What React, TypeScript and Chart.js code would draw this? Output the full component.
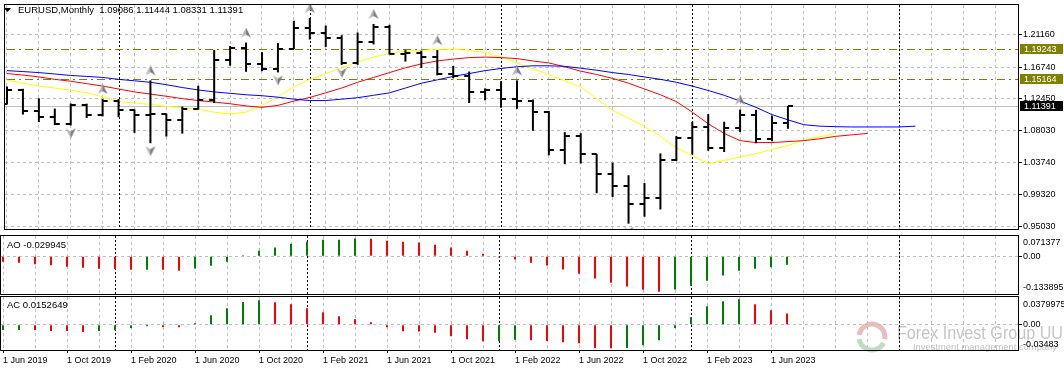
import React, { useEffect, useRef } from 'react';
import { Chart, registerables } from 'chart.js';

Chart.register(...registerables);

const FONT = "'Liberation Sans', Arial, sans-serif";

// ---------- data (monthly EURUSD, Jun 2019 .. Jul 2023) ----------
const xTickLabels = ['1 Jun 2019', '1 Oct 2019', '1 Feb 2020', '1 Jun 2020', '1 Oct 2020', '1 Feb 2021', '1 Jun 2021', '1 Oct 2021', '1 Feb 2022', '1 Jun 2022', '1 Oct 2022', '1 Feb 2023', '1 Jun 2023'];

const opens = [1.1169, 1.1370, 1.1076, 1.0988, 1.0899, 1.1152, 1.1017, 1.1213, 1.1091, 1.1026,
  1.1031, 1.0955, 1.1103, 1.1233, 1.1778, 1.1935, 1.1721, 1.1647, 1.1928, 1.2216,
  1.2136, 1.2074, 1.1730, 1.2020, 1.2227, 1.1858, 1.1870, 1.1808, 1.1580, 1.1558,
  1.1337, 1.1370, 1.1235, 1.1219, 1.1067, 1.0545, 1.0733, 1.0484, 1.0220, 1.0055,
  0.9802, 0.9884, 1.0406, 1.0705, 1.0863, 1.0576, 1.0840, 1.1016, 1.0689, 1.09086];
const highs = [1.1412, 1.1380, 1.1250, 1.1109, 1.1179, 1.1176, 1.1240, 1.1239, 1.1096, 1.1495,
  1.1039, 1.1136, 1.1422, 1.1909, 1.1966, 1.2011, 1.1881, 1.2004, 1.2310, 1.2349,
  1.2243, 1.2113, 1.2150, 1.2266, 1.2254, 1.1909, 1.1901, 1.1909, 1.1692, 1.1616,
  1.1386, 1.1483, 1.1495, 1.1233, 1.1076, 1.0787, 1.0774, 1.0486, 1.0369, 1.0198,
  1.0094, 1.0497, 1.0736, 1.0929, 1.1033, 1.0930, 1.1095, 1.1092, 1.1012, 1.11444];
const lows = [1.1165, 1.1028, 1.0926, 1.0885, 1.0879, 1.0981, 1.1003, 1.0992, 1.0778, 1.0636,
  1.0727, 1.0767, 1.1095, 1.1185, 1.1696, 1.1612, 1.1621, 1.1603, 1.1922, 1.2054,
  1.1952, 1.1704, 1.1707, 1.1986, 1.1847, 1.1752, 1.1664, 1.1563, 1.1524, 1.1186,
  1.1222, 1.1121, 1.1106, 1.0806, 1.0471, 1.0349, 1.0359, 0.9952, 0.9901, 0.9536,
  0.9632, 0.9730, 1.0393, 1.0483, 1.0533, 1.0516, 1.0788, 1.0635, 1.0662, 1.08331];
const closes = [1.1370, 1.1076, 1.0988, 1.0899, 1.1152, 1.1017, 1.1213, 1.1091, 1.1026, 1.1031,
  1.0955, 1.1103, 1.1233, 1.1778, 1.1935, 1.1721, 1.1647, 1.1928, 1.2216, 1.2136,
  1.2074, 1.1730, 1.2020, 1.2227, 1.1858, 1.1870, 1.1808, 1.1580, 1.1558, 1.1337,
  1.1370, 1.1235, 1.1219, 1.1067, 1.0545, 1.0733, 1.0484, 1.0220, 1.0055, 0.9802,
  0.9884, 1.0406, 1.0705, 1.0863, 1.0576, 1.0840, 1.1016, 1.0689, 1.0910, 1.11391];

// Alligator lines (shifted lines run past the last bar)
const jawLine = [1.1628, 1.1615, 1.1601, 1.1582, 1.1562, 1.1549, 1.1535, 1.1509, 1.1489, 1.1469,
  1.1436, 1.1397, 1.1364, 1.1337, 1.1318, 1.1298, 1.1285, 1.1265, 1.1238, 1.1219,
  1.1219, 1.1238, 1.1258, 1.1291, 1.1324, 1.1390, 1.1456, 1.1502, 1.1549, 1.1588,
  1.1628, 1.1658, 1.1681, 1.1694, 1.1694, 1.1687, 1.1661, 1.1634, 1.1601, 1.1575,
  1.1542, 1.1509, 1.1469, 1.1417, 1.1357, 1.1291, 1.1212, 1.1126, 1.1027, 1.0955,
  1.0889, 1.0869, 1.0862, 1.0858, 1.0858, 1.0858, 1.0858, 1.0869];
const teethLine = [1.1588, 1.1568, 1.1542, 1.1509, 1.1483, 1.1450, 1.1417, 1.1377, 1.1337, 1.1307,
  1.1278, 1.1245, 1.1219, 1.1199, 1.1175, 1.1146, 1.1126, 1.1153, 1.1212, 1.1262,
  1.1324, 1.1390, 1.1469, 1.1535, 1.1601, 1.1667, 1.1720, 1.1760, 1.1786, 1.1806,
  1.1813, 1.1806, 1.1793, 1.1760, 1.1733, 1.1681, 1.1621, 1.1575, 1.1522, 1.1456,
  1.1377, 1.1298, 1.1205, 1.1060, 1.0902, 1.0770, 1.0671, 1.0645, 1.0645, 1.0658,
  1.0671, 1.0697, 1.0730, 1.0750, 1.0770];
const lipsLine = [1.1496, 1.1456, 1.1417, 1.1390, 1.1360, 1.1324, 1.1271, 1.1205, 1.1186, 1.1166,
  1.1139, 1.1120, 1.1100, 1.1060, 1.1034, 1.1060, 1.1153, 1.1271, 1.1403, 1.1509,
  1.1588, 1.1667, 1.1747, 1.1813, 1.1865, 1.1892, 1.1905, 1.1918, 1.1922, 1.1905,
  1.1878, 1.1813, 1.1733, 1.1654, 1.1575, 1.1489, 1.1403, 1.1245, 1.1087, 1.0974,
  1.0866, 1.0730, 1.0572, 1.0466, 1.0361, 1.0400, 1.0447, 1.0493, 1.0552, 1.0605,
  1.0678, 1.0724, 1.0770];

const aoValues = [-0.0200, -0.0236, -0.0283, -0.0319, -0.0378, -0.0413, -0.0448, -0.0452, -0.0484, -0.0478,
  -0.0485, -0.0519, -0.0437, -0.0342, -0.0201, 0.0035, 0.0189, 0.0307, 0.0437, 0.0507,
  0.0578, 0.0582, 0.0625, 0.0620, 0.0543, 0.0507, 0.0484, 0.0401, 0.0307, 0.0189,
  0.0083, -0.0047, -0.0118, -0.0236, -0.0330, -0.0472, -0.0625, -0.0791, -0.0944, -0.1074,
  -0.1192, -0.1263, -0.1180, -0.1050, -0.0873, -0.0684, -0.0519, -0.0448, -0.0389, -0.029945];
const acValues = [-0.0073, -0.0072, -0.0074, -0.0087, -0.0088, -0.0101, -0.0087, -0.0078, -0.0046, -0.0023,
  -0.0032, -0.0037, 0.0018, 0.0128, 0.0224, 0.0311, 0.0334, 0.0307, 0.0279, 0.0224,
  0.0169, 0.0115, 0.0073, 0.0032, -0.0037, -0.0092, -0.0094, -0.0110, -0.0160, -0.0202,
  -0.0229, -0.0227, -0.0206, -0.0215, -0.0224, -0.0243, -0.0256, -0.0321, -0.0325, -0.0320,
  -0.0284, -0.0215, -0.0046, 0.0101, 0.0252, 0.0321, 0.0348, 0.0279, 0.0197, 0.0152649];

const fractalUpIdx = [6, 9, 15, 19, 23, 27, 32, 46];
const fractalDownIdx = [4, 9, 17, 21, 39];
const yearStartIdx = [7, 19, 31, 43, 56];

const priceTicks = [0.9503, 0.9932, 1.0374, 1.0803, 1.1245, 1.1674, 1.2116];
const levelPrices = [1.19243, 1.15164];
const bidPrice = 1.11391;
const titleText = 'EURUSD,Monthly  1.09086 1.11444 1.08331 1.11391';
const aoTitle = 'AO -0.029945';
const acTitle = 'AC 0.0152649';
const aoRange = { min: -0.133895, max: 0.071377, minLabel: '-0.133895', maxLabel: '0.071377' };
const acRange = { min: -0.03483, max: 0.0379975, minLabel: '-0.03483', maxLabel: '0.0379975' };
const priceRange = { min: 0.94634, max: 1.25251 };
const barsInView = { min: -0.125, max: 63.4375 };

const GREEN = '#008000';
const RED = '#ff0000';
const GRID = '#c0c0c0';
const AXIS_W = 46;

const gridIdx: number[] = [];
for (let i = 0; i <= 62; i += 2) gridIdx.push(i);

// ---------- helpers ----------
function tickImage(side: 'left' | 'right') {
  const c = document.createElement('canvas');
  c.width = 12; c.height = 2;
  const g = c.getContext('2d')!;
  g.fillStyle = '#000';
  if (side === 'left') g.fillRect(1, 0, 5, 2); else g.fillRect(6, 0, 5, 2);
  return c;
}

function arrowImage(up: boolean) {
  const c = document.createElement('canvas');
  c.width = 12; c.height = 30;
  const g = c.getContext('2d')!;
  const cy = up ? 5 : 23;
  const s = up ? 1 : -1;
  g.beginPath();
  g.moveTo(6, cy - 5 * s); g.lineTo(6, cy + 2 * s); g.lineTo(1, cy + 5 * s); g.closePath();
  g.fillStyle = '#b4b4b4'; g.fill();
  g.beginPath();
  g.moveTo(6, cy - 5 * s); g.lineTo(6, cy + 2 * s); g.lineTo(11, cy + 5 * s); g.closePath();
  g.fillStyle = '#7c7c7c'; g.fill();
  return c;
}

function zeroPad(s: any) {
  s.paddingTop = 0; s.paddingBottom = 0; s.paddingLeft = 0; s.paddingRight = 0;
}

function xScale(showLabels: boolean) {
  const labelAt = (v: number) => {
    const n = Math.round(v);
    return n % 4 === 0 && n / 4 < xTickLabels.length ? xTickLabels[n / 4] : '';
  };
  return {
    type: 'linear',
    min: barsInView.min,
    max: barsInView.max,
    offset: false,
    grid: {
      color: GRID, lineWidth: 1, offset: false,
      drawTicks: showLabels, tickLength: 3,
      tickColor: (ctx: any) => (ctx.tick && labelAt(ctx.tick.value) ? '#000' : 'rgba(0,0,0,0)'),
    },
    border: { display: false, dash: [3, 3] },
    ticks: {
      display: showLabels, autoSkip: false, maxRotation: 0, minRotation: 0, align: 'start',
      padding: 2, color: '#000', font: { family: FONT, size: 9 },
      callback: (v: any) => labelAt(Number(v)),
    },
    afterBuildTicks: (s: any) => { s.ticks = gridIdx.map((v) => ({ value: v })); },
    afterFit: (s: any) => { s.height = showLabels ? 22 : 0; zeroPad(s); },
  };
}

function drawSeparators(chart: any) {
  const { ctx, chartArea: a, scales } = chart;
  ctx.save();
  ctx.beginPath(); ctx.rect(a.left, a.top, a.right - a.left, a.bottom - a.top); ctx.clip();
  ctx.strokeStyle = '#000'; ctx.lineWidth = 1; ctx.setLineDash([2, 2]);
  yearStartIdx.forEach((i) => {
    const x = Math.round(scales.x.getPixelForValue(i)) + 0.5;
    ctx.beginPath(); ctx.moveTo(x, a.top); ctx.lineTo(x, a.bottom); ctx.stroke();
  });
  ctx.restore();
}

function drawFrame(chart: any) {
  const { ctx, chartArea: a } = chart;
  ctx.save();
  ctx.strokeStyle = '#000'; ctx.lineWidth = 1; ctx.setLineDash([]);
  ctx.strokeRect(a.left - 0.5, a.top - 0.5, a.right - a.left + 1, a.bottom - a.top + 1);
  ctx.restore();
}

function drawPaneTitle(chart: any, text: string, dy: number) {
  const { ctx, chartArea: a } = chart;
  ctx.save();
  ctx.fillStyle = '#000'; ctx.font = `9.5px ${FONT}`;
  ctx.textBaseline = 'middle'; ctx.textAlign = 'left';
  ctx.fillText(text, a.left + 6, a.top + dy);
  ctx.restore();
}

function drawRangeLabels(chart: any, r: any, topDy: number, botDy: number) {
  const { ctx, chartArea: a } = chart;
  ctx.save();
  ctx.fillStyle = '#000';
  ctx.font = `9px ${FONT}`; ctx.textBaseline = 'middle'; ctx.textAlign = 'left';
  ctx.fillText(r.maxLabel, a.right + 5, a.top + topDy);
  ctx.fillText(r.minLabel, a.right + 5, a.bottom - botDy);
  ctx.restore();
}

const baseOptions = (padding: any) => ({
  responsive: false,
  maintainAspectRatio: false,
  animation: false,
  devicePixelRatio: 1,
  events: [],
  layout: { padding },
  plugins: { legend: { display: false }, tooltip: { enabled: false }, title: { display: false } },
});

// ---------- component ----------
export default function App() {
  const mainRef = useRef<HTMLCanvasElement>(null);
  const aoRef = useRef<HTMLCanvasElement>(null);
  const acRef = useRef<HTMLCanvasElement>(null);

  useEffect(() => {
    document.body.style.margin = '0';
    const openImg = tickImage('left');
    const closeImg = tickImage('right');
    const upImg = arrowImage(true);
    const downImg = arrowImage(false);

    const lineDs = (vals: number[], color: string) => ({
      type: 'line',
      data: vals.map((v, i) => ({ x: i, y: v })),
      borderColor: color, borderWidth: 1, pointRadius: 0, tension: 0, fill: false, order: 3,
    });

    const mainChart = new Chart(mainRef.current!, {
      type: 'line',
      data: {
        datasets: [
          lineDs(jawLine, '#0000ff'),
          lineDs(teethLine, '#ff0000'),
          lineDs(lipsLine, '#ffff00'),
          {
            type: 'bar',
            data: opens.map((_, i) => ({ x: i, y: [lows[i], highs[i]] })),
            backgroundColor: '#000', borderWidth: 0, barThickness: 2, inflateAmount: 0, order: 1,
          },
          { type: 'scatter', data: opens.map((v, i) => ({ x: i, y: v })), pointStyle: openImg, pointRadius: 3, order: 0 },
          { type: 'scatter', data: closes.map((v, i) => ({ x: i, y: v })), pointStyle: closeImg, pointRadius: 3, order: 0 },
          { type: 'scatter', data: fractalUpIdx.map((i) => ({ x: i, y: highs[i] })), pointStyle: upImg, pointRadius: 3, order: 2 },
          { type: 'scatter', data: fractalDownIdx.map((i) => ({ x: i, y: lows[i] })), pointStyle: downImg, pointRadius: 3, order: 2 },
        ] as any,
      },
      options: {
        ...baseOptions({ top: 1, left: 1, right: 0, bottom: 1 }),
        scales: {
          x: xScale(false) as any,
          y: {
            type: 'linear', position: 'right', min: priceRange.min, max: priceRange.max,
            grid: { color: GRID, drawTicks: true, tickLength: 4, tickColor: '#000' },
            border: { display: false, dash: [3, 3] },
            ticks: { color: '#000', padding: 1, font: { family: FONT, size: 9 }, callback: (v: any) => Number(v).toFixed(5) },
            afterBuildTicks: (s: any) => { s.ticks = priceTicks.map((v) => ({ value: v })); },
            afterFit: (s: any) => { s.width = AXIS_W; zeroPad(s); },
          } as any,
        },
      } as any,
      plugins: [{
        id: 'mainDecor',
        beforeDatasetsDraw(chart: any) {
          const { ctx, chartArea: a, scales } = chart;
          drawSeparators(chart);
          ctx.save();
          ctx.lineWidth = 1;
          ctx.strokeStyle = GRID; ctx.setLineDash([]);
          const yb = Math.round(scales.y.getPixelForValue(bidPrice)) + 0.5;
          ctx.beginPath(); ctx.moveTo(a.left, yb); ctx.lineTo(a.right, yb); ctx.stroke();
          ctx.strokeStyle = '#808000'; ctx.setLineDash([8, 4, 2, 4]);
          levelPrices.forEach((p) => {
            const y = Math.round(scales.y.getPixelForValue(p)) + 0.5;
            ctx.beginPath(); ctx.moveTo(a.left + 2, y); ctx.lineTo(a.right, y); ctx.stroke();
          });
          ctx.restore();
        },
        afterDraw(chart: any) {
          const { ctx, chartArea: a, scales } = chart;
          drawFrame(chart);
          ctx.save();
          ctx.fillStyle = '#000';
          ctx.beginPath(); ctx.moveTo(4, 8); ctx.lineTo(11, 8); ctx.lineTo(7.5, 12); ctx.closePath(); ctx.fill();
          ctx.font = `9.5px ${FONT}`; ctx.textBaseline = 'middle'; ctx.textAlign = 'left';
          ctx.fillText(titleText, 18, 10.5);
          const box = (p: number, bg: string) => {
            const y = Math.round(scales.y.getPixelForValue(p));
            ctx.fillStyle = bg; ctx.fillRect(a.right + 2, y - 5, 43, 10);
            ctx.fillStyle = '#fff'; ctx.font = `9px ${FONT}`;
            ctx.fillText(p.toFixed(5), a.right + 6, y + 0.5);
          };
          levelPrices.forEach((p) => box(p, '#808000'));
          box(bidPrice, '#000');
          ctx.restore();
        },
      }],
    });

    const aoColors = aoValues.map((v, i) => (i === 0 ? RED : v > aoValues[i - 1] ? GREEN : RED));
    const acColors = acValues.map((v, i) => (i === 0 ? GREEN : v > acValues[i - 1] ? GREEN : RED));

    const oscYScale = (r: any) => ({
      type: 'linear', position: 'right', min: r.min, max: r.max,
      grid: { color: GRID, drawTicks: true, tickLength: 4, tickColor: '#000' },
      border: { display: false, dash: [3, 3] },
      ticks: { color: '#000', padding: 1, font: { family: FONT, size: 9 }, callback: () => '0.00' },
      afterBuildTicks: (s: any) => { s.ticks = [{ value: 0 }]; },
      afterFit: (s: any) => { s.width = AXIS_W; zeroPad(s); },
    });

    const aoChart = new Chart(aoRef.current!, {
      type: 'line',
      data: {
        datasets: [{
          type: 'bar', data: aoValues.map((v, i) => ({ x: i, y: v })),
          backgroundColor: aoColors, borderWidth: 0, barThickness: 2, inflateAmount: 0,
        }] as any,
      },
      options: {
        ...baseOptions({ top: 1, left: 1, right: 0, bottom: 1 }),
        scales: { x: xScale(false) as any, y: oscYScale(aoRange) as any },
      } as any,
      plugins: [{
        id: 'aoDecor',
        beforeDatasetsDraw(chart: any) { drawSeparators(chart); },
        afterDraw(chart: any) {
          drawFrame(chart);
          drawPaneTitle(chart, aoTitle, 9);
          drawRangeLabels(chart, aoRange, 6.5, 6.5);
        },
      }],
    });

    const acChart = new Chart(acRef.current!, {
      type: 'line',
      data: {
        datasets: [{
          type: 'bar', data: acValues.map((v, i) => ({ x: i, y: v })),
          backgroundColor: acColors, borderWidth: 0, barThickness: 2, inflateAmount: 0,
        }] as any,
      },
      options: {
        ...baseOptions({ top: 1, left: 1, right: 0, bottom: 0 }),
        scales: { x: xScale(true) as any, y: oscYScale(acRange) as any },
      } as any,
      plugins: [{
        id: 'acDecor',
        beforeDraw(chart: any) {
          const { ctx } = chart;
          ctx.save();
          const cx = 872, cy = 41, r = 13;
          ctx.lineWidth = 5;
          ctx.strokeStyle = 'rgba(210,110,110,0.45)';
          ctx.beginPath(); ctx.arc(cx, cy, r, Math.PI * 1.05, Math.PI * 2.05); ctx.stroke();
          ctx.strokeStyle = 'rgba(120,175,120,0.45)';
          ctx.beginPath(); ctx.arc(cx, cy, r, Math.PI * 0.15, Math.PI * 0.95); ctx.stroke();
          const fit = (text: string, font: string, x: number, y: number, w: number, color: string) => {
            ctx.font = font; ctx.fillStyle = color; ctx.textBaseline = 'middle'; ctx.textAlign = 'left';
            const m = ctx.measureText(text).width;
            ctx.save(); ctx.translate(x, y); ctx.scale(w / m, 1); ctx.fillText(text, 0, 0); ctx.restore();
          };
          fit('Forex Invest Group UU', `18px ${FONT}`, 897, 38, 166, 'rgba(150,150,150,0.55)');
          fit('Investment management company', `9.5px ${FONT}`, 913, 51, 144, 'rgba(150,150,150,0.6)');
          ctx.restore();
        },
        beforeDatasetsDraw(chart: any) { drawSeparators(chart); },
        afterDraw(chart: any) {
          drawFrame(chart);
          drawPaneTitle(chart, acTitle, 8.5);
          drawRangeLabels(chart, acRange, 7.5, 5);
        },
      }],
    });

    return () => { mainChart.destroy(); aoChart.destroy(); acChart.destroy(); };
  }, []);

  return (
    <div style={{ position: 'relative', width: 1064, height: 372, background: '#fff', overflow: 'hidden' }}>
      <canvas ref={mainRef} width={1064} height={234} style={{ position: 'absolute', left: 0, top: 0 }} />
      <canvas ref={aoRef} width={1064} height={60} style={{ position: 'absolute', left: 0, top: 235 }} />
      <canvas ref={acRef} width={1064} height={76} style={{ position: 'absolute', left: 0, top: 296 }} />
    </div>
  );
}
